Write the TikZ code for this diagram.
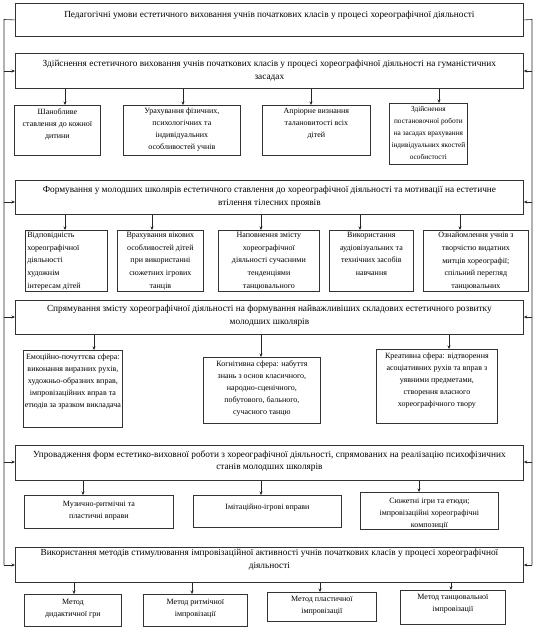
\documentclass[tikz,border=0pt]{standalone}
\usepackage{fontspec}
\setmainfont{Liberation Serif}
\usetikzlibrary{arrows.meta}
\tikzset{
  box/.style={draw=black!80, line width=0.8pt, inner sep=0pt, anchor=north west},
  mainbox/.style={box, font=\fontsize{9.3}{12.5}\selectfont},
  subbox/.style={box, font=\fontsize{8}{12}\selectfont},
  link/.style={draw=black!85, line width=0.6pt},
  arr/.style={link, -{Stealth[length=3.5pt,width=3pt]}}
}
% style, name, x, y, w, h, top pad, text
\newcommand\bx[8]{\node[#1] (#2) at (#3,#4) {\parbox[t][#6pt][t]{#5pt}{\vspace*{#7pt}\centering #8\par}};}
\begin{document}
\begin{tikzpicture}[x=1pt,y=-1pt]
\useasboundingbox (0,0) rectangle (537,636);
% main boxes
\bx{mainbox}{B0}{15}{3}{508}{33}{8}{Педагогічні умови естетичного виховання учнів початкових класів у процесі хореографічної діяльності}
\bx{mainbox}{B1}{15}{53}{508}{35}{7}{Здійснення естетичного виховання учнів початкових класів у процесі хореографічної діяльності на гуманістичних\\засадах}
\bx{mainbox}{B2}{15}{180}{508}{34}{6}{Формування у молодших школярів естетичного ставлення до хореографічної діяльності та мотивації на естетичне\\втілення тілесних проявів}
\bx{mainbox}{B3}{15}{300}{508}{34}{5}{Спрямування змісту хореографічної діяльності на формування найважливіших складових естетичного розвитку\\молодших школярів}
\bx{mainbox}{B4}{15}{445}{508}{35}{5}{Упровадження форм естетико-виховної роботи з хореографічної діяльності, спрямованих на реалізацію психофізичних\\станів молодших школярів}
\bx{mainbox}{B5}{15}{547}{508}{35}{2}{Використання методів стимулювання імпровізаційної активності учнів початкових класів у процесі хореографічної\\діяльності}
% row 1
\bx{subbox}{R1a}{14}{105}{86}{50}{3}{Шанобливе\\ставлення до кожної\\дитини}
\bx{subbox}{R1b}{123}{105}{117}{50}{3}{Урахування фізичних,\\психологічних та\\індивідуальних\\особливостей учнів}
\bx{subbox}{R1c}{262}{105}{108}{50}{3}{Апріорне визнання\\талановитості всіх\\дітей}
\bx{subbox}{R1d}{389}{103}{78}{61}{3}{\fontsize{7.3}{12}\selectfont Здійснення\\постановочної роботи\\на засадах врахування\\індивідуальних якостей\\особистості}
% row 2
\bx{subbox}{R2a}{25}{230}{82}{61}{2}{\raggedright\leftskip=2pt\baselineskip=12.6pt Відповідність\\хореографічної\\діяльності\\художнім\\інтересам дітей}
\bx{subbox}{R2b}{117}{230}{86}{61}{2}{\baselineskip=12.6pt Врахування вікових\\особливостей дітей\\при використанні\\сюжетних ігрових\\танців}
\bx{subbox}{R2c}{218}{230}{101}{61}{2}{\baselineskip=12.6pt Наповнення змісту\\хореографічної\\діяльності сучасними\\тенденціями\\танцювального}
\bx{subbox}{R2d}{329}{230}{84}{61}{2}{\baselineskip=12.6pt Використання\\аудіовізуальних та\\технічних засобів\\навчання}
\bx{subbox}{R2e}{423}{230}{105}{61}{2}{\baselineskip=12.6pt Ознайомлення учнів з\\творчістю видатних\\митців хореографії;\\спільний перегляд\\танцювальних}
% row 3
\bx{subbox}{R3a}{23}{350}{99}{77}{4}{Емоційно-почуттєва сфера:\\виконання виразних рухів,\\художньо-образних вправ,\\імпровізаційних вправ та\\етюдів за зразком викладача}
\bx{subbox}{R3b}{203}{357}{117}{66}{3}{Когнітивна сфера: набуття\\знань з основ класичного,\\народно-сценічного,\\побутового, бального,\\сучасного танцю}
\bx{subbox}{R3c}{376}{349}{121}{74}{4}{Креативна сфера: відтворення\\асоціативних рухів та вправ з\\уявними предметами,\\створення власного\\хореографічного твору}
% row 4
\bx{subbox}{R4a}{24}{495}{149}{33}{6}{Музично-ритмічні та\\пластичні вправи}
\bx{subbox}{R4b}{193}{495}{148}{32}{9}{Імітаційно-ігрові вправи}
\bx{subbox}{R4c}{360}{492}{138}{37}{6}{Сюжетні ігри та етюди;\\імпровізаційні хореографічні\\композиції}
% row 5
\bx{subbox}{R5a}{24}{594}{97}{32}{5}{Метод\\дидактичної гри}
\bx{subbox}{R5b}{143}{594}{104}{32}{5}{Метод ритмічної\\імпровізації}
\bx{subbox}{R5c}{267}{592}{109}{29}{4}{Метод пластичної\\імпровізації}
\bx{subbox}{R5d}{400}{590}{105}{34}{4}{Метод танцювальної\\імпровізації}
% side trunks
\coordinate (Lt) at (4,19.5);
\coordinate (Lb) at (4,565);
\coordinate (Rt) at (532,19.5);
\coordinate (Rb) at (532,565);
\draw[link] (B0.west) -- (Lt) -- (Lb);
\draw[link] (B0.east) -- (Rt) -- (Rb);
\foreach \n/\yy in {B1/71,B2/202,B3/317,B4/462,B5/565}{
  \draw[arr] (Lt |- 0,\yy) -- (\n.west |- 0,\yy);
  \draw[arr] (Rt |- 0,\yy) -- (\n.east |- 0,\yy);
}
% down arrows
\foreach \c/\xx in {R1a/65,R1b/183,R1c/311,R1d/439}{\draw[arr] (B1.south -| \xx,0) -- (\c.north -| \xx,0);}
\foreach \c/\xx in {R2a/65,R2b/152,R2c/261,R2d/360,R2e/460}{\draw[arr] (B2.south -| \xx,0) -- (\c.north -| \xx,0);}
\foreach \c/\xx in {R3a/94,R3b/261,R3c/449}{\draw[arr] (B3.south -| \xx,0) -- (\c.north -| \xx,0);}
\foreach \c/\xx in {R4a/83,R4b/261,R4c/419}{\draw[arr] (B4.south -| \xx,0) -- (\c.north -| \xx,0);}
\foreach \c/\xx in {R5a/74,R5b/192,R5c/320,R5d/451}{\draw[arr] (B5.south -| \xx,0) -- (\c.north -| \xx,0);}
\end{tikzpicture}
\end{document}
